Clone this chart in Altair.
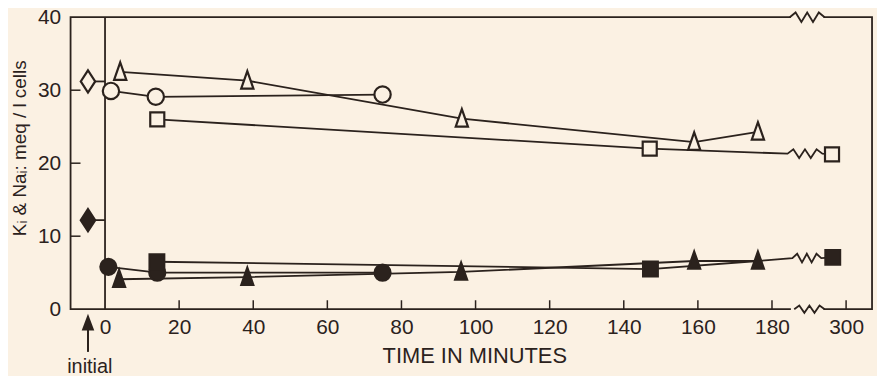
import altair as alt
import pandas as pd

BG = "#fbf1e3"
INK = "#2b221d"
FONT = "Liberation Sans"

W, H = 807, 294

# x positions in minutes; the axis is broken after 180 and "300" is drawn at position 200
XMIN, XMAX = -9.3, 207.0
YMIN, YMAX = 0, 40

x_tick_values = [0, 20, 40, 60, 80, 100, 120, 140, 160, 180, 200]
x_tick_labels = ["0", "20", "40", "60", "80", "100", "120", "140", "160", "180", "300"]
x_minor_ticks = [20, 40, 60, 80, 100, 120, 140, 160, 180, 200]
y_tick_values = [0, 10, 20, 30, 40]
y_inner_ticks = [10, 20, 30]

# initial values (plotted left of time zero)
initial_t = -4.6
initial_open = 31.2
initial_filled = 12.2

# open symbols (upper group)
open_tri_t = [4.1, 38.4, 96.3, 159.0, 176.2]
open_tri_v = [32.5, 31.3, 26.1, 22.9, 24.3]
open_circ_t = [1.6, 13.7, 74.9]
open_circ_v = [29.9, 29.1, 29.4]
open_sq_t = [14.1, 147.0, 196.2]
open_sq_v = [26.0, 22.0, 21.2]

# filled symbols (lower group)
filled_circ_t = [0.9, 14.1, 74.9]
filled_circ_v = [5.8, 5.0, 5.0]
filled_sq_t = [14.0, 147.2, 196.4]
filled_sq_v = [6.5, 5.5, 7.1]
filled_tri_t = [3.8, 38.4, 96.1, 159.0, 176.2]
filled_tri_v = [4.1, 4.4, 5.1, 6.6, 6.6]

# axis-break positions
frame_break = (184.8, 194.2)
line_break_open = (184.2, 193.6, 21.3)
line_break_filled = (185.5, 193.3, 7.0)


def zigzag(x0, x1, y, amp, n=6):
    pts = []
    for i in range(n + 1):
        xx = x0 + (x1 - x0) * i / n
        off = 0 if i in (0, n) else (amp if i % 2 else -amp)
        pts.append((xx, y + off))
    return pts


def seg_rows(name, pts):
    return [{"seg": name, "o": i, "x": p[0], "y": p[1]} for i, p in enumerate(pts)]


rows = []
rows += seg_rows("otri", list(zip(open_tri_t, open_tri_v)))
rows += seg_rows("ocirc", list(zip(open_circ_t, open_circ_v)))
rows += seg_rows(
    "osq",
    list(zip(open_sq_t[:2], open_sq_v[:2]))
    + zigzag(line_break_open[0], line_break_open[1], line_break_open[2], 0.6)
    + [(open_sq_t[2], open_sq_v[2])],
)
rows += seg_rows("odia", [(initial_t, initial_open), (0, initial_open)])
rows += seg_rows("fdia", [(initial_t, initial_filled), (0, initial_filled)])
rows += seg_rows("fcirc", list(zip(filled_circ_t, filled_circ_v)))
rows += seg_rows(
    "fsq", list(zip(filled_sq_t[:2], filled_sq_v[:2])) + [(filled_tri_t[4], filled_tri_v[4])]
)
rows += seg_rows(
    "ftri",
    list(zip(filled_tri_t, filled_tri_v))
    + zigzag(line_break_filled[0], line_break_filled[1], line_break_filled[2], 0.6)
    + [(filled_sq_t[2], filled_sq_v[2])],
)
lines_df = pd.DataFrame(rows)

zig_rows = []
zig_rows += seg_rows("top", zigzag(frame_break[0], frame_break[1], YMAX, 0.65))
zig_rows += seg_rows("bottom", zigzag(frame_break[0] + 1.2, frame_break[1], YMIN, 0.5))
zig_df = pd.DataFrame(zig_rows)
gap_df = pd.DataFrame({"x": [frame_break[0] + 0.3], "x2": [frame_break[1] - 0.3]})

xs = alt.Scale(domain=[XMIN, XMAX], nice=False, zero=False)
ys = alt.Scale(domain=[YMIN, YMAX], nice=False, zero=False)

label_expr = " : ".join(
    f"datum.value == {v} ? '{l}'" for v, l in zip(x_tick_values, x_tick_labels)
) + " : datum.label"

x_axis = alt.Axis(
    values=x_tick_values,
    labelExpr=label_expr,
    ticks=False,
    domain=False,
    grid=False,
    labelPadding=7,
    labelFontSize=21,
    labelFlush=False,
    title=None,
)
y_axis = alt.Axis(
    values=y_tick_values,
    ticks=False,
    domain=False,
    grid=False,
    labelPadding=10,
    labelFontSize=21,
    title=None,
)

# gaps in the frame where the axis is broken
gap_top = alt.Chart(gap_df).mark_rect(color=BG).encode(
    x=alt.X("x:Q", scale=xs, axis=x_axis),
    x2="x2:Q",
    y=alt.value(-3),
    y2=alt.value(3),
)
gap_bottom = alt.Chart(gap_df).mark_rect(color=BG).encode(
    x=alt.X("x:Q", scale=xs),
    x2="x2:Q",
    y=alt.value(H - 3),
    y2=alt.value(H + 3),
)

zigs = alt.Chart(zig_df).mark_line(color=INK, strokeWidth=1.8).encode(
    x=alt.X("x:Q", scale=xs),
    y=alt.Y("y:Q", scale=ys, axis=y_axis),
    detail="seg:N",
    order="o:Q",
)

zero_line = alt.Chart().mark_rule(color=INK, strokeWidth=1.8).encode(
    x=alt.datum(0, scale=xs), y=alt.datum(YMIN, scale=ys), y2=alt.datum(YMAX)
)

xt = alt.Chart(pd.DataFrame({"x": x_minor_ticks})).mark_rule(color=INK, strokeWidth=1.5).encode(
    x=alt.X("x:Q", scale=xs), y=alt.value(H), y2=alt.value(H - 9)
)
yt = alt.Chart(pd.DataFrame({"y": y_inner_ticks})).mark_rule(color=INK, strokeWidth=1.5).encode(
    y=alt.Y("y:Q", scale=ys), x=alt.value(0), x2=alt.value(10)
)

series_lines = alt.Chart(lines_df).mark_line(color=INK, strokeWidth=1.8).encode(
    x=alt.X("x:Q", scale=xs),
    y=alt.Y("y:Q", scale=ys),
    detail="seg:N",
    order="o:Q",
)

TRI = "M0,-1.1L0.7,0.9L-0.7,0.9Z"
DIA = "M0,-1L0.65,0L0,1L-0.65,0Z"


def markers(ts, vs, shape, size, filled):
    df = pd.DataFrame({"x": ts, "y": vs})
    fill = INK if filled else BG
    return alt.Chart(df).mark_point(
        shape=shape, size=size, filled=True, fill=fill, stroke=INK,
        strokeWidth=2.2, opacity=1,
    ).encode(x=alt.X("x:Q", scale=xs), y=alt.Y("y:Q", scale=ys))


pts = [
    markers([initial_t], [initial_open], DIA, 500, False),
    markers([initial_t], [initial_filled], DIA, 500, True),
    markers(open_tri_t, open_tri_v, TRI, 310, False),
    markers(open_circ_t, open_circ_v, "circle", 270, False),
    markers(open_sq_t, open_sq_v, "square", 200, False),
    markers(filled_circ_t, filled_circ_v, "circle", 260, True),
    markers(filled_sq_t, filled_sq_v, "square", 220, True),
    markers(filled_tri_t, filled_tri_v, TRI, 300, True),
]

arrow_shaft = alt.Chart().mark_rule(color=INK, strokeWidth=2).encode(
    x=alt.datum(initial_t, scale=xs), y=alt.value(H + 14), y2=alt.value(H + 43)
)
arrow_head = alt.Chart().mark_point(
    shape="M0,-1L0.75,1L-0.75,1Z", size=170, filled=True, fill=INK, stroke=INK, opacity=1
).encode(x=alt.datum(initial_t, scale=xs), y=alt.value(H + 14))

initial_text = alt.Chart().mark_text(
    text="initial", font=FONT, fontSize=20, color=INK, baseline="middle", align="center"
).encode(x=alt.datum(initial_t + 0.5, scale=xs), y=alt.value(H + 58))

x_title = alt.Chart().mark_text(
    text="TIME IN MINUTES", font=FONT, fontSize=22, color=INK, baseline="middle", align="center"
).encode(x=alt.value(407), y=alt.value(H + 47))

y_title = alt.Chart().mark_text(
    text="Kᵢ & Naᵢ: meq / l cells", font=FONT, fontSize=19, color=INK,
    baseline="middle", align="center", angle=270,
).encode(x=alt.value(-51), y=alt.value(132))

chart = alt.layer(
    gap_top, gap_bottom, zigs, zero_line, xt, yt, series_lines, *pts,
    arrow_shaft, arrow_head, initial_text, x_title, y_title,
).properties(
    width=W,
    height=H,
    background=BG,
    padding={"left": 63, "top": 8, "right": 5, "bottom": 66},
    autosize=alt.AutoSizeParams(type="none"),
).configure_view(stroke=INK, strokeWidth=1.8).configure_axis(
    labelFont=FONT, labelColor=INK
)

chart.save("out.html", embed_options={"renderer": "svg", "actions": False})
